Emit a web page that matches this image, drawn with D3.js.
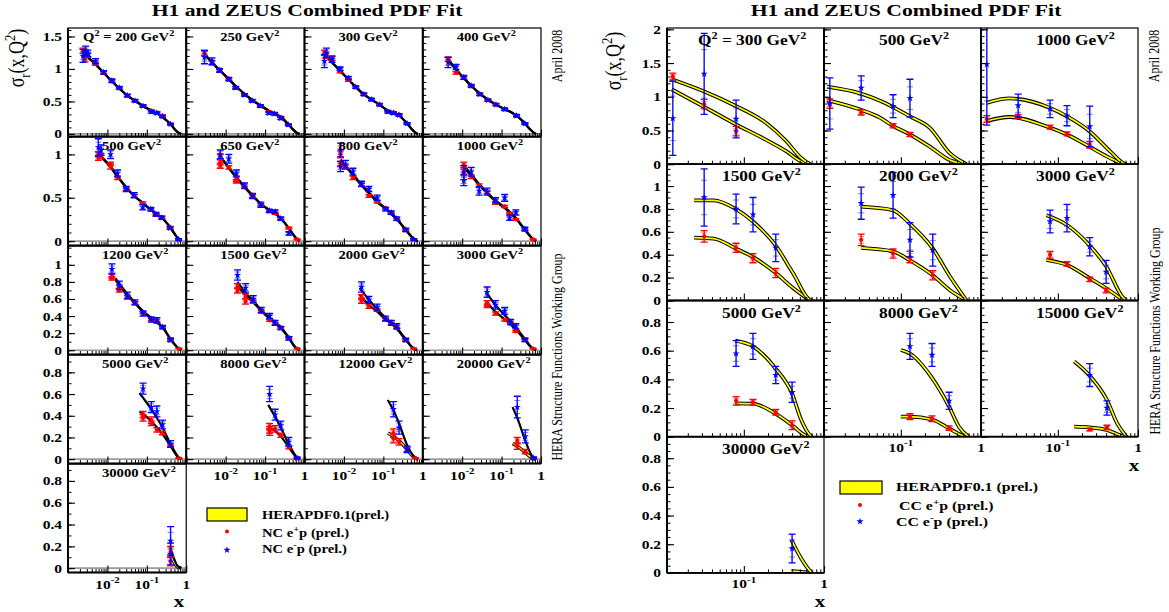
<!DOCTYPE html>
<html><head><meta charset="utf-8">
<script src="https://cdn.jsdelivr.net/npm/d3@7"></script>
<style>
body{margin:0;background:#fff;}
svg{display:block;font-family:"Liberation Serif","Times New Roman",serif;}
</style></head><body>
<svg id="chart" width="1169" height="612"></svg>
<script>
// ---------------- DATA ----------------
// Neutral current panels
const ncQ2 = [200,250,300,400,500,650,800,1000,1200,1500,2000,3000,5000,8000,12000,20000,30000];
// points: [x, sigma_r, error]
const ncEplusPoints = [
 [[0.0024,1.28,0.04],[0.0027,1.15,0.04],[0.0032,1.21,0.03],[0.005,1.08,0.025],[0.008,0.94,0.02],[0.013,0.81,0.02],[0.02,0.70,0.015],[0.032,0.59,0.015],[0.05,0.51,0.012],[0.08,0.43,0.01],[0.13,0.36,0.01],[0.18,0.33,0.01],[0.25,0.28,0.01],[0.40,0.15,0.008]],
 [[0.0029,1.25,0.04],[0.0045,1.09,0.03],[0.007,0.97,0.02],[0.012,0.85,0.02],[0.018,0.71,0.015],[0.03,0.60,0.015],[0.047,0.51,0.012],[0.076,0.43,0.01],[0.125,0.34,0.01],[0.175,0.31,0.01],[0.25,0.26,0.01],[0.39,0.14,0.008]],
 [[0.0032,1.25,0.04],[0.0035,1.20,0.04],[0.005,1.16,0.03],[0.008,0.96,0.02],[0.013,0.83,0.02],[0.02,0.72,0.015],[0.032,0.61,0.015],[0.05,0.53,0.012],[0.08,0.45,0.01],[0.13,0.35,0.01],[0.18,0.33,0.01],[0.25,0.30,0.01],[0.40,0.16,0.008]],
 [[0.0044,1.15,0.03],[0.007,0.94,0.02],[0.011,0.86,0.02],[0.017,0.73,0.015],[0.028,0.61,0.015],[0.045,0.52,0.012],[0.072,0.45,0.01],[0.12,0.38,0.01],[0.24,0.28,0.01],[0.39,0.16,0.008]],
 [[0.0059,1.0,0.03],[0.0059,0.96,0.03],[0.0069,0.98,0.03],[0.012,0.86,0.03],[0.012,0.89,0.02],[0.018,0.73,0.02],[0.03,0.60,0.015],[0.048,0.52,0.015],[0.079,0.44,0.012],[0.127,0.36,0.01],[0.172,0.30,0.01],[0.24,0.27,0.01],[0.39,0.16,0.01],[0.64,0.02,0.005]],
 [[0.0073,0.97,0.03],[0.0073,0.91,0.03],[0.0073,0.87,0.03],[0.012,0.85,0.02],[0.0187,0.72,0.03],[0.0187,0.69,0.02],[0.03,0.62,0.015],[0.048,0.52,0.015],[0.078,0.42,0.012],[0.128,0.35,0.01],[0.18,0.32,0.01],[0.25,0.26,0.01],[0.40,0.15,0.01],[0.65,0.02,0.005]],
 [[0.0082,1.0,0.04],[0.0082,0.89,0.03],[0.011,0.86,0.02],[0.017,0.73,0.02],[0.028,0.65,0.015],[0.043,0.52,0.015],[0.07,0.45,0.012],[0.114,0.38,0.01],[0.158,0.32,0.01],[0.22,0.25,0.01],[0.37,0.13,0.01],[0.59,0.02,0.005]],
 [[0.011,0.88,0.03],[0.011,0.80,0.03],[0.017,0.74,0.02],[0.027,0.64,0.02],[0.043,0.56,0.015],[0.07,0.44,0.015],[0.12,0.40,0.012],[0.16,0.32,0.01],[0.23,0.25,0.01],[0.39,0.13,0.01],[0.63,0.02,0.005]],
 [[0.013,0.87,0.03],[0.013,0.84,0.02],[0.02,0.74,0.02],[0.02,0.70,0.02],[0.032,0.62,0.02],[0.05,0.55,0.015],[0.08,0.44,0.012],[0.13,0.36,0.01],[0.18,0.33,0.01],[0.25,0.27,0.01],[0.40,0.13,0.01],[0.65,0.02,0.005]],
 [[0.02,0.75,0.03],[0.02,0.70,0.03],[0.032,0.63,0.03],[0.032,0.57,0.03],[0.05,0.57,0.02],[0.08,0.45,0.015],[0.13,0.35,0.012],[0.18,0.31,0.01],[0.25,0.26,0.01],[0.40,0.15,0.01],[0.65,0.02,0.005]],
 [[0.028,0.62,0.03],[0.028,0.58,0.03],[0.043,0.51,0.02],[0.07,0.47,0.015],[0.114,0.36,0.012],[0.16,0.31,0.01],[0.22,0.26,0.01],[0.37,0.12,0.01],[0.59,0.02,0.005]],
 [[0.043,0.55,0.03],[0.043,0.52,0.02],[0.07,0.43,0.02],[0.12,0.355,0.015],[0.17,0.31,0.01],[0.23,0.22,0.01],[0.39,0.13,0.01],[0.63,0.02,0.005]],
 [[0.08,0.41,0.03],[0.08,0.38,0.03],[0.13,0.36,0.03],[0.13,0.33,0.02],[0.18,0.27,0.02],[0.25,0.24,0.015],[0.40,0.13,0.01],[0.65,0.01,0.005]],
 [[0.13,0.30,0.03],[0.13,0.27,0.03],[0.13,0.25,0.03],[0.18,0.28,0.03],[0.25,0.22,0.02],[0.40,0.11,0.015],[0.65,0.01,0.005]],
 [[0.18,0.24,0.04],[0.18,0.19,0.04],[0.25,0.16,0.03],[0.40,0.09,0.02],[0.65,0.01,0.005]],
 [[0.25,0.17,0.03],[0.25,0.12,0.03],[0.40,0.07,0.02],[0.65,0.01,0.005]],
 [[0.40,0.15,0.05],[0.40,0.06,0.04]]
];
const ncEminusPoints = [
 [[0.0024,1.20,0.1],[0.0028,1.28,0.07],[0.0032,1.24,0.05],[0.005,1.12,0.04],[0.008,0.95,0.025],[0.013,0.82,0.025],[0.02,0.71,0.02],[0.032,0.59,0.02],[0.05,0.51,0.02],[0.08,0.43,0.02],[0.13,0.34,0.02],[0.18,0.32,0.02],[0.25,0.27,0.02],[0.40,0.15,0.015]],
 [[0.0029,1.18,0.1],[0.0045,1.12,0.05],[0.007,0.98,0.03],[0.012,0.84,0.025],[0.018,0.71,0.02],[0.03,0.60,0.02],[0.047,0.51,0.02],[0.076,0.43,0.02],[0.125,0.32,0.02],[0.175,0.31,0.02],[0.25,0.24,0.02],[0.39,0.14,0.015]],
 [[0.0032,1.12,0.1],[0.0036,1.25,0.07],[0.005,1.15,0.05],[0.008,1.0,0.03],[0.013,0.86,0.025],[0.02,0.72,0.02],[0.032,0.61,0.02],[0.05,0.53,0.02],[0.08,0.45,0.02],[0.13,0.34,0.02],[0.18,0.32,0.02],[0.25,0.29,0.02],[0.40,0.16,0.015]],
 [[0.0044,1.10,0.08],[0.007,1.03,0.04],[0.011,0.87,0.03],[0.017,0.74,0.02],[0.028,0.61,0.02],[0.045,0.52,0.02],[0.072,0.45,0.02],[0.12,0.38,0.02],[0.24,0.28,0.02],[0.39,0.16,0.015]],
 [[0.0059,1.08,0.1],[0.0069,1.05,0.06],[0.012,1.0,0.05],[0.018,0.78,0.04],[0.03,0.60,0.03],[0.048,0.53,0.03],[0.079,0.39,0.03],[0.127,0.37,0.02],[0.172,0.31,0.02],[0.24,0.27,0.02],[0.39,0.15,0.015],[0.64,0.02,0.01]],
 [[0.0073,1.0,0.05],[0.012,0.95,0.05],[0.0187,0.78,0.04],[0.03,0.64,0.03],[0.048,0.52,0.03],[0.078,0.42,0.03],[0.128,0.35,0.02],[0.18,0.34,0.02],[0.25,0.26,0.02],[0.40,0.09,0.02]],
 [[0.0082,1.05,0.08],[0.0082,0.86,0.06],[0.011,0.88,0.05],[0.017,0.80,0.04],[0.028,0.66,0.03],[0.043,0.60,0.03],[0.07,0.50,0.03],[0.114,0.37,0.02],[0.158,0.33,0.02],[0.22,0.26,0.02],[0.37,0.13,0.02],[0.59,0.02,0.01]],
 [[0.011,0.79,0.08],[0.011,0.70,0.06],[0.017,0.80,0.05],[0.027,0.58,0.05],[0.043,0.57,0.04],[0.07,0.47,0.03],[0.12,0.50,0.04],[0.16,0.27,0.03],[0.23,0.33,0.03],[0.39,0.14,0.02]],
 [[0.013,0.95,0.06],[0.02,0.76,0.05],[0.032,0.64,0.04],[0.05,0.56,0.03],[0.08,0.43,0.03],[0.13,0.36,0.03],[0.18,0.35,0.03],[0.25,0.27,0.02],[0.40,0.12,0.02]],
 [[0.02,0.88,0.06],[0.032,0.73,0.05],[0.05,0.60,0.04],[0.08,0.47,0.03],[0.13,0.40,0.03],[0.18,0.32,0.03],[0.25,0.26,0.02],[0.40,0.14,0.02]],
 [[0.028,0.74,0.06],[0.043,0.59,0.04],[0.07,0.50,0.04],[0.114,0.37,0.03],[0.16,0.32,0.03],[0.22,0.28,0.03],[0.37,0.12,0.02]],
 [[0.043,0.68,0.06],[0.07,0.53,0.05],[0.12,0.46,0.04],[0.17,0.33,0.03],[0.23,0.28,0.03],[0.39,0.12,0.02]],
 [[0.08,0.65,0.05],[0.13,0.48,0.05],[0.18,0.44,0.05],[0.25,0.32,0.04],[0.40,0.14,0.03]],
 [[0.13,0.60,0.07],[0.18,0.41,0.05],[0.25,0.31,0.04],[0.40,0.16,0.04],[0.65,0.01,0.01]],
 [[0.18,0.46,0.07],[0.25,0.29,0.06],[0.40,0.09,0.03]],
 [[0.25,0.48,0.1],[0.40,0.21,0.06],[0.65,0.01,0.01]],
 [[0.40,0.25,0.13],[0.40,0.13,0.1]]
];
// fit curves: [x, sigma_r]
const ncEplusFit = [
 [[0.0024,1.26],[0.0032,1.18],[0.005,1.07],[0.008,0.94],[0.013,0.81],[0.02,0.70],[0.032,0.59],[0.05,0.51],[0.08,0.43],[0.13,0.36],[0.18,0.32],[0.25,0.26],[0.40,0.15],[0.55,0.05],[0.65,0.015],[0.75,0]],
 [[0.0029,1.23],[0.005,1.07],[0.008,0.95],[0.013,0.82],[0.02,0.71],[0.032,0.60],[0.05,0.51],[0.08,0.43],[0.13,0.35],[0.18,0.31],[0.25,0.26],[0.40,0.14],[0.55,0.05],[0.65,0.015],[0.75,0]],
 [[0.0032,1.22],[0.005,1.10],[0.008,0.97],[0.013,0.84],[0.02,0.72],[0.032,0.61],[0.05,0.53],[0.08,0.45],[0.13,0.36],[0.18,0.32],[0.25,0.28],[0.40,0.16],[0.55,0.06],[0.65,0.02],[0.75,0]],
 [[0.0042,1.16],[0.007,0.99],[0.011,0.86],[0.017,0.74],[0.028,0.62],[0.045,0.53],[0.072,0.45],[0.12,0.38],[0.18,0.33],[0.24,0.28],[0.39,0.16],[0.55,0.06],[0.65,0.02],[0.75,0]],
 [[0.0059,1.0],[0.008,0.94],[0.012,0.85],[0.018,0.74],[0.03,0.62],[0.048,0.52],[0.079,0.44],[0.127,0.36],[0.18,0.31],[0.24,0.27],[0.39,0.16],[0.55,0.06],[0.65,0.02],[0.75,0]],
 [[0.0073,0.97],[0.012,0.84],[0.0187,0.73],[0.03,0.62],[0.048,0.52],[0.078,0.43],[0.128,0.36],[0.18,0.32],[0.25,0.26],[0.40,0.15],[0.55,0.06],[0.65,0.02],[0.75,0]],
 [[0.0082,0.92],[0.011,0.86],[0.017,0.76],[0.028,0.64],[0.043,0.55],[0.07,0.45],[0.114,0.37],[0.158,0.31],[0.22,0.25],[0.37,0.13],[0.55,0.04],[0.65,0.012],[0.75,0]],
 [[0.011,0.85],[0.017,0.75],[0.027,0.65],[0.043,0.55],[0.07,0.46],[0.12,0.38],[0.16,0.33],[0.23,0.26],[0.39,0.13],[0.55,0.05],[0.65,0.015],[0.75,0]],
 [[0.016,0.82],[0.02,0.76],[0.032,0.64],[0.05,0.55],[0.08,0.45],[0.13,0.37],[0.18,0.32],[0.25,0.27],[0.40,0.13],[0.55,0.05],[0.65,0.015],[0.75,0]],
 [[0.02,0.75],[0.032,0.64],[0.05,0.56],[0.08,0.46],[0.13,0.37],[0.18,0.32],[0.25,0.26],[0.40,0.14],[0.55,0.05],[0.65,0.015],[0.75,0]],
 [[0.025,0.65],[0.043,0.53],[0.07,0.45],[0.114,0.36],[0.16,0.31],[0.22,0.25],[0.37,0.12],[0.5,0.05],[0.62,0.01],[0.72,0]],
 [[0.04,0.57],[0.07,0.45],[0.12,0.36],[0.17,0.30],[0.23,0.24],[0.39,0.12],[0.55,0.04],[0.65,0.01],[0.75,0]],
 [[0.065,0.44],[0.13,0.35],[0.25,0.23],[0.40,0.12],[0.55,0.04],[0.65,0.01],[0.75,0]],
 [[0.12,0.30],[0.18,0.26],[0.25,0.21],[0.40,0.11],[0.55,0.04],[0.65,0.01],[0.75,0]],
 [[0.13,0.24],[0.18,0.21],[0.25,0.17],[0.40,0.09],[0.55,0.03],[0.65,0.01],[0.75,0]],
 [[0.19,0.145],[0.25,0.12],[0.40,0.06],[0.55,0.02],[0.65,0.005],[0.75,0]],
 [[0.40,0.11],[0.5,0.05],[0.6,0.01],[0.75,0]]
];
const ncEminusFit = [
 [[0.0024,1.26],[0.0032,1.18],[0.005,1.07],[0.008,0.94],[0.013,0.81],[0.02,0.70],[0.032,0.59],[0.05,0.51],[0.08,0.43],[0.13,0.36],[0.18,0.32],[0.25,0.26],[0.40,0.15],[0.55,0.05],[0.65,0.015],[0.75,0]],
 [[0.0029,1.23],[0.005,1.07],[0.008,0.95],[0.013,0.82],[0.02,0.71],[0.032,0.60],[0.05,0.51],[0.08,0.43],[0.13,0.35],[0.18,0.31],[0.25,0.26],[0.40,0.14],[0.55,0.05],[0.65,0.015],[0.75,0]],
 [[0.0032,1.22],[0.005,1.10],[0.008,0.97],[0.013,0.84],[0.02,0.72],[0.032,0.61],[0.05,0.53],[0.08,0.45],[0.13,0.36],[0.18,0.32],[0.25,0.28],[0.40,0.16],[0.55,0.06],[0.65,0.02],[0.75,0]],
 [[0.0042,1.16],[0.007,0.99],[0.011,0.86],[0.017,0.74],[0.028,0.62],[0.045,0.53],[0.072,0.45],[0.12,0.38],[0.18,0.33],[0.24,0.28],[0.39,0.16],[0.55,0.06],[0.65,0.02],[0.75,0]],
 [[0.0059,1.01],[0.008,0.95],[0.012,0.86],[0.018,0.75],[0.03,0.62],[0.048,0.52],[0.079,0.44],[0.127,0.36],[0.18,0.31],[0.24,0.27],[0.39,0.16],[0.55,0.06],[0.65,0.02],[0.75,0]],
 [[0.0073,0.98],[0.012,0.85],[0.0187,0.74],[0.03,0.63],[0.048,0.53],[0.078,0.43],[0.128,0.36],[0.18,0.32],[0.25,0.26],[0.40,0.15],[0.55,0.06],[0.65,0.02],[0.75,0]],
 [[0.0082,0.94],[0.011,0.87],[0.017,0.77],[0.028,0.65],[0.043,0.56],[0.07,0.46],[0.114,0.38],[0.158,0.32],[0.22,0.26],[0.37,0.13],[0.55,0.04],[0.65,0.012],[0.75,0]],
 [[0.011,0.87],[0.017,0.77],[0.027,0.66],[0.043,0.56],[0.07,0.47],[0.12,0.39],[0.16,0.34],[0.23,0.27],[0.39,0.13],[0.55,0.05],[0.65,0.015],[0.75,0]],
 [[0.016,0.84],[0.02,0.78],[0.032,0.66],[0.05,0.56],[0.08,0.46],[0.13,0.38],[0.18,0.33],[0.25,0.27],[0.40,0.13],[0.55,0.05],[0.65,0.015],[0.75,0]],
 [[0.02,0.80],[0.032,0.67],[0.05,0.58],[0.08,0.47],[0.13,0.38],[0.18,0.33],[0.25,0.27],[0.40,0.15],[0.55,0.05],[0.65,0.015],[0.75,0]],
 [[0.025,0.73],[0.043,0.59],[0.07,0.48],[0.114,0.38],[0.16,0.32],[0.22,0.26],[0.37,0.13],[0.5,0.05],[0.62,0.01],[0.72,0]],
 [[0.04,0.68],[0.07,0.53],[0.12,0.41],[0.17,0.34],[0.23,0.27],[0.39,0.13],[0.55,0.04],[0.65,0.01],[0.75,0]],
 [[0.065,0.61],[0.13,0.46],[0.25,0.29],[0.40,0.14],[0.55,0.05],[0.65,0.015],[0.75,0]],
 [[0.12,0.50],[0.18,0.39],[0.25,0.29],[0.40,0.14],[0.55,0.05],[0.65,0.01],[0.75,0]],
 [[0.13,0.545],[0.18,0.45],[0.25,0.33],[0.40,0.13],[0.55,0.04],[0.65,0.01],[0.75,0]],
 [[0.19,0.48],[0.25,0.38],[0.40,0.17],[0.55,0.05],[0.65,0.01],[0.75,0]],
 [[0.40,0.18],[0.5,0.08],[0.6,0.02],[0.75,0]]
];
const ncYTicks = [[0,0.5,1,1.5],[0,0.5,1],[0,0.2,0.4,0.6,0.8,1],[0,0.2,0.4,0.6,0.8],[0,0.2,0.4,0.6,0.8]];
const ncXTickLabels = [{v:0.01,t:"10",e:"-2"},{v:0.1,t:"10",e:"-1"},{v:1,t:"1",e:""}];

// Charged current panels
const ccQ2 = [300,500,1000,1500,2000,3000,5000,8000,15000,30000];
const ccEplusPoints = [
 [[0.013,1.30,0.05],[0.032,0.89,0.07],[0.08,0.49,0.07]],
 [[0.013,0.90,0.07],[0.032,0.77,0.04],[0.08,0.57,0.03],[0.13,0.44,0.03]],
 [[0.013,0.67,0.05],[0.032,0.71,0.03],[0.08,0.55,0.03],[0.13,0.45,0.03],[0.25,0.29,0.05]],
 [[0.032,0.56,0.05],[0.08,0.46,0.04],[0.13,0.37,0.04],[0.25,0.24,0.04]],
 [[0.032,0.53,0.05],[0.08,0.41,0.04],[0.13,0.38,0.05],[0.25,0.22,0.04]],
 [[0.08,0.40,0.03],[0.13,0.32,0.02],[0.25,0.185,0.02],[0.40,0.087,0.02]],
 [[0.08,0.25,0.03],[0.13,0.24,0.02],[0.25,0.17,0.02],[0.40,0.08,0.03]],
 [[0.13,0.14,0.02],[0.245,0.125,0.02],[0.40,0.06,0.015]],
 [[0.25,0.05,0.01],[0.41,0.065,0.015]],
 []
];
const ccEminusPoints = [
 [[0.013,0.68,0.55],[0.032,1.34,0.6],[0.08,0.67,0.28]],
 [[0.013,0.90,0.38],[0.032,1.13,0.18],[0.08,0.86,0.17],[0.13,0.98,0.28]],
 [[0.013,1.48,0.9],[0.032,0.87,0.17],[0.08,0.82,0.13],[0.13,0.72,0.15],[0.25,0.56,0.3]],
 [[0.032,0.90,0.25],[0.08,0.80,0.13],[0.13,0.75,0.15],[0.25,0.46,0.12]],
 [[0.032,0.85,0.14],[0.08,0.92,0.2],[0.13,0.53,0.15],[0.25,0.44,0.14]],
 [[0.08,0.69,0.1],[0.13,0.72,0.12],[0.25,0.47,0.08],[0.40,0.25,0.1]],
 [[0.08,0.58,0.09],[0.13,0.63,0.09],[0.25,0.43,0.06],[0.40,0.31,0.07]],
 [[0.13,0.63,0.09],[0.245,0.57,0.08],[0.40,0.25,0.06]],
 [[0.25,0.43,0.08],[0.41,0.20,0.05]],
 [[0.40,0.17,0.1]]
];
const ccEplusFit = [
 [[0.0126,1.11],[0.031,0.86],[0.077,0.60],[0.19,0.36],[0.34,0.19],[0.5,0.05],[0.67,0]],
 [[0.012,0.95],[0.031,0.81],[0.055,0.69],[0.079,0.57],[0.13,0.44],[0.23,0.26],[0.41,0.06],[0.66,0]],
 [[0.0129,0.64],[0.025,0.70],[0.08,0.54],[0.13,0.44],[0.248,0.26],[0.45,0.09],[0.66,0.005],[0.72,0]],
 [[0.024,0.55],[0.042,0.54],[0.079,0.455],[0.13,0.38],[0.25,0.24],[0.41,0.11],[0.67,0]],
 [[0.032,0.46],[0.079,0.43],[0.13,0.35],[0.25,0.22],[0.41,0.09],[0.66,0]],
 [[0.072,0.354],[0.13,0.31],[0.25,0.195],[0.40,0.107],[0.66,0]],
 [[0.078,0.233],[0.13,0.23],[0.245,0.163],[0.40,0.08],[0.58,0.01],[0.70,0]],
 [[0.10,0.14],[0.13,0.14],[0.245,0.12],[0.40,0.058],[0.58,0.01],[0.70,0]],
 [[0.16,0.07],[0.25,0.065],[0.41,0.047],[0.6,0.01],[0.72,0]],
 [[0.39,0.014],[0.55,0.005],[0.72,0]]
];
const ccEminusFit = [
 [[0.0126,1.26],[0.031,1.085],[0.077,0.87],[0.19,0.61],[0.34,0.34],[0.5,0.11],[0.67,0]],
 [[0.012,1.15],[0.031,1.05],[0.055,0.94],[0.079,0.85],[0.13,0.71],[0.23,0.54],[0.41,0.16],[0.66,0]],
 [[0.0129,0.91],[0.025,0.975],[0.08,0.835],[0.13,0.71],[0.248,0.49],[0.45,0.19],[0.66,0.015],[0.72,0]],
 [[0.024,0.875],[0.042,0.875],[0.079,0.80],[0.13,0.69],[0.25,0.48],[0.41,0.24],[0.67,0.005],[0.72,0]],
 [[0.032,0.82],[0.079,0.79],[0.13,0.67],[0.25,0.455],[0.41,0.21],[0.66,0]],
 [[0.072,0.745],[0.13,0.66],[0.25,0.48],[0.40,0.30],[0.66,0.02],[0.72,0]],
 [[0.078,0.67],[0.13,0.63],[0.245,0.48],[0.40,0.30],[0.52,0.117],[0.69,0.005],[0.72,0]],
 [[0.10,0.605],[0.13,0.58],[0.245,0.41],[0.40,0.21],[0.53,0.07],[0.70,0]],
 [[0.16,0.525],[0.25,0.425],[0.41,0.256],[0.55,0.093],[0.72,0]],
 [[0.39,0.233],[0.52,0.10],[0.69,0.007],[0.72,0]]
];
const ccYTicks = [[0,0.5,1,1.5,2],[0,0.2,0.4,0.6,0.8,1],[0,0.2,0.4,0.6,0.8],[0,0.2,0.4,0.6,0.8]];
const ccXTickLabels = [{v:0.1,t:"10",e:"-1"},{v:1,t:"1",e:""}];

// ---------------- DRAWING ----------------
const SX = 1.24;
const FONT = "Liberation Serif";
const svg = d3.select("#chart");
const defs = svg.append("defs");
let clipN = 0;

function rich(t, segs, size) {
  let shift = 0;
  segs.forEach(([s, kind]) => {
    const target = kind === "sup" ? -0.42 * size : kind === "sub" ? 0.28 * size : 0;
    t.append("tspan").attr("dy", target - shift).attr("font-size", kind ? size * 0.7 : size).text(s);
    shift = target;
  });
  return t;
}
function hText(x, y, size, weight, anchor, segs) {
  const t = svg.append("text")
    .attr("transform", `translate(${x},${y}) scale(${SX},1)`)
    .attr("font-size", size).attr("font-weight", weight).attr("text-anchor", anchor)
    .attr("font-family", FONT).attr("fill", "#000");
  return rich(t, segs, size);
}
function vText(x, y, size, weight, segs) {
  const t = svg.append("text")
    .attr("transform", `translate(${x},${y}) rotate(-90) scale(1,${SX})`)
    .attr("font-size", size).attr("font-weight", weight).attr("text-anchor", "middle")
    .attr("font-family", FONT).attr("fill", "#000");
  return rich(t, segs, size);
}

function drawPoints(g, pts, x, y, color, shape) {
  pts.forEach(([px, py, e]) => {
    const cx = x(px);
    const yLo = y(py - e), yHi = y(py + e);
    g.append("line").attr("x1", cx).attr("x2", cx).attr("y1", yLo).attr("y2", yHi)
      .attr("stroke", color).attr("stroke-width", 1.5).attr("opacity", 0.9);
    [yLo, yHi].forEach(yy => g.append("line").attr("x1", cx - 3.5).attr("x2", cx + 3.5)
      .attr("y1", yy).attr("y2", yy).attr("stroke", color).attr("stroke-width", 1.3));
    [y(py - e * 0.6), y(py + e * 0.6)].forEach(yy => g.append("line").attr("x1", cx - 3).attr("x2", cx + 3)
      .attr("y1", yy).attr("y2", yy).attr("stroke", color).attr("stroke-width", 1.1).attr("opacity", 0.45));
    if (shape === "circle") {
      g.append("circle").attr("cx", cx).attr("cy", y(py)).attr("r", 2.1).attr("fill", color);
    } else {
      g.append("path").attr("d", d3.symbol(d3.symbolStar, 16)())
        .attr("transform", `translate(${cx},${y(py)})`).attr("fill", color);
    }
  });
}

function drawFigure(cfg) {
  const n = cfg.q2.length;
  cfg.q2.forEach((q, i) => {
    const col = i % cfg.ncol, row = Math.floor(i / cfg.ncol);
    const left = cfg.x0 + col * cfg.colW, right = left + cfg.colW;
    const top = cfg.rowTops[row], bottom = top + cfg.rowH;
    const x = d3.scaleLog().domain(cfg.xDomain).range([left, right]);
    const y = d3.scaleLinear().domain(cfg.yDomains[row]).range([bottom, top]);
    const g = svg.append("g");
    const cid = "clip" + (clipN++);
    defs.append("clipPath").attr("id", cid).append("rect")
      .attr("x", left).attr("y", top).attr("width", cfg.colW).attr("height", cfg.rowH);

    // zero line
    g.append("line").attr("x1", left).attr("x2", right).attr("y1", y(0)).attr("y2", y(0))
      .attr("stroke", "#9a9a9a").attr("stroke-width", 1.6);

    const plot = g.append("g").attr("clip-path", `url(#${cid})`);
    const line = d3.line().x(d => x(d[0])).y(d => y(d[1])).curve(d3.curveMonotoneX);
    [[cfg.fitP[i], true], [cfg.fitM[i], false]].forEach(([f, isPlus]) => {
      if (!f || !f.length) return;
      const wide = cfg.band || (isPlus && q >= 12000);
      plot.append("path").attr("d", line(f)).attr("fill", "none").attr("stroke", "#000")
        .attr("stroke-width", wide ? (cfg.band ? 3.8 : 3.4) : 2.2);
      if (wide) plot.append("path").attr("d", line(f)).attr("fill", "none")
        .attr("stroke", "#ffff00").attr("stroke-width", cfg.band ? 1.7 : 1.5);
    });
    drawPoints(plot, cfg.ptsP[i], x, y, "#ff0000", "circle");
    drawPoints(plot, cfg.ptsM[i], x, y, "#0000ff", "star");

    // frame
    g.append("rect").attr("x", left).attr("y", top).attr("width", cfg.colW).attr("height", cfg.rowH)
      .attr("fill", "none").attr("stroke", "#000").attr("stroke-width", 1.2);
    g.append("line").attr("x1", left).attr("x2", left).attr("y1", top).attr("y2", bottom)
      .attr("stroke", "#000").attr("stroke-width", 2);

    // y axis
    const [y0d, y1d] = cfg.yDomains[row];
    const yMajor = d3.axisLeft(y).tickValues(cfg.yTicks[row]).tickSizeInner(-7).tickSizeOuter(0)
      .tickPadding(6).tickFormat(col === 0 ? d3.format("~g") : () => "");
    const ay = g.append("g").attr("transform", `translate(${left},0)`).call(yMajor);
    ay.select(".domain").remove();
    ay.attr("font-family", null).attr("font-size", null);
    ay.selectAll("line").attr("stroke", "#000").attr("stroke-width", 1.1);
    ay.selectAll("text").attr("font-family", FONT).attr("font-size", 12.5).attr("font-weight", "bold")
      .attr("fill", "#000").attr("x", -6 / SX).attr("transform", `scale(${SX},1)`);
    const minorY = d3.range(Math.ceil(y0d / cfg.yMinor[row]) * cfg.yMinor[row], y1d + 1e-9, cfg.yMinor[row]);
    const ayMin = g.append("g").attr("transform", `translate(${left},0)`)
      .call(d3.axisLeft(y).tickValues(minorY).tickSizeInner(-3.5).tickSizeOuter(0).tickFormat(""));
    ayMin.select(".domain").remove();
    ayMin.selectAll("line").attr("stroke", "#000").attr("stroke-width", 1);

    // x axis
    const majors = x.ticks().filter(v => Math.abs(Math.log10(v) - Math.round(Math.log10(v))) < 1e-6);
    const minors = x.ticks().filter(v => Math.abs(Math.log10(v) - Math.round(Math.log10(v))) >= 1e-6);
    const ax = g.append("g").attr("transform", `translate(0,${bottom})`)
      .call(d3.axisBottom(x).tickValues(majors).tickSizeInner(-7).tickSizeOuter(0).tickFormat(""));
    ax.select(".domain").remove();
    ax.selectAll("line").attr("stroke", "#000").attr("stroke-width", 1.1);
    const axm = g.append("g").attr("transform", `translate(0,${bottom})`)
      .call(d3.axisBottom(x).tickValues(minors).tickSizeInner(-3.5).tickSizeOuter(0).tickFormat(""));
    axm.select(".domain").remove();
    axm.selectAll("line").attr("stroke", "#000").attr("stroke-width", 1);
    g.append("line").attr("x1", left).attr("x2", right).attr("y1", bottom).attr("y2", bottom)
      .attr("stroke", "#000").attr("stroke-width", 1.8);

    // x tick labels under panels with nothing below
    if (i + cfg.ncol >= n) {
      cfg.xLabels.forEach(L => {
        hText(x(L.v), bottom + cfg.xLabelDy, 12.5, "bold", "middle", L.e ? [[L.t, ""], [L.e, "sup"]] : [[L.t, ""]]);
      });
    }

    // panel label
    const lx = left + (i === 0 ? cfg.firstLabelDx : cfg.labelDx);
    const segs = i === 0
      ? [["Q", ""], ["2", "sup"], [` = ${q} GeV`, ""], ["2", "sup"]]
      : [[`${q} GeV`, ""], ["2", "sup"]];
    hText(lx, top + cfg.labelDy, cfg.labelSize, "bold", "start", segs);
  });
}

drawFigure({
  q2: ncQ2, ptsP: ncEplusPoints, ptsM: ncEminusPoints, fitP: ncEplusFit, fitM: ncEminusFit,
  ncol: 4, x0: 68, colW: 118.25, rowTops: [28, 137, 246, 355, 464], rowH: 108.5,
  xDomain: [0.001, 1],
  yDomains: [[-0.04, 1.63], [-0.05, 1.2], [-0.05, 1.22], [-0.04, 0.96], [-0.04, 0.955]],
  yTicks: ncYTicks, yMinor: [0.1, 0.1, 0.1, 0.1, 0.1],
  xLabels: ncXTickLabels, xLabelDy: 16,
  firstLabelDx: 15, labelDx: 34, labelDy: 13, labelSize: 11.8, band: false
});
drawFigure({
  q2: ccQ2, ptsP: ccEplusPoints, ptsM: ccEminusPoints, fitP: ccEplusFit, fitM: ccEminusFit,
  ncol: 3, x0: 667, colW: 157, rowTops: [28, 164.3, 300.5, 436.7], rowH: 136.2,
  xDomain: [0.011, 1],
  yDomains: [[0, 2.02], [0, 1.19], [0, 0.95], [0, 0.95]],
  yTicks: ccYTicks, yMinor: [0.1, 0.05, 0.05, 0.05],
  xLabels: ccXTickLabels, xLabelDy: 15,
  firstLabelDx: 31, labelDx: 55, labelDy: 17, labelSize: 14, band: true
});

// titles
hText(307, 16, 17.5, "bold", "middle", [["H1 and ZEUS Combined PDF Fit", ""]]);
hText(906, 16, 17.5, "bold", "middle", [["H1 and ZEUS Combined PDF Fit", ""]]);
// y titles
vText(24, 58, 18, "normal", [["σ", ""], ["r", "sub"], ["(x,Q", ""], ["2", "sup"], [")", ""]]);
vText(621, 61, 18, "normal", [["σ", ""], ["r", "sub"], ["(x,Q", ""], ["2", "sup"], [")", ""]]);
// side notes
vText(562, 56, 12, "normal", [["April 2008", ""]]);
vText(1159, 56, 12, "normal", [["April 2008", ""]]);
vText(562, 357, 12, "normal", [["HERA Structure Functions Working Group", ""]]);
vText(1160, 331, 12, "normal", [["HERA Structure Functions Working Group", ""]]);
// x titles
hText(179, 607, 17, "bold", "middle", [["x", ""]]);
hText(820, 607, 17, "bold", "middle", [["x", ""]]);
hText(1134, 471, 17, "bold", "middle", [["x", ""]]);

// legends
function legend(bx, by, bw, bh, rows, size, mx) {
  svg.append("rect").attr("x", bx).attr("y", by).attr("width", bw).attr("height", bh)
    .attr("fill", "#ffff00").attr("stroke", "#000").attr("stroke-width", 1.2);
  rows.forEach(r => {
    hText(r.tx, r.ty, size, "bold", "start", r.segs);
    if (r.mark === "circle") svg.append("circle").attr("cx", mx).attr("cy", r.my).attr("r", 2).attr("fill", "#ff0000");
    if (r.mark === "star") svg.append("path").attr("d", d3.symbol(d3.symbolStar, 16)())
      .attr("transform", `translate(${mx},${r.my})`).attr("fill", "#0000ff");
  });
}
legend(207, 508, 40, 13, [
  {tx: 262, ty: 519, segs: [["HERAPDF0.1(prel.)", ""]]},
  {tx: 262, ty: 536.5, segs: [["NC e", ""], ["+", "sup"], ["p (prel.)", ""]], mark: "circle", my: 531.5},
  {tx: 262, ty: 553, segs: [["NC e", ""], ["-", "sup"], ["p (prel.)", ""]], mark: "star", my: 550}
], 11.8, 227);
legend(840, 481, 42, 13, [
  {tx: 896, ty: 491, segs: [["HERAPDF0.1 (prel.)", ""]]},
  {tx: 899, ty: 510, segs: [["CC e", ""], ["+", "sup"], ["p (prel.)", ""]], mark: "circle", my: 505},
  {tx: 896, ty: 526, segs: [["CC e", ""], ["-", "sup"], ["p (prel.)", ""]], mark: "star", my: 521.5}
], 12.8, 860);
</script></body></html>
